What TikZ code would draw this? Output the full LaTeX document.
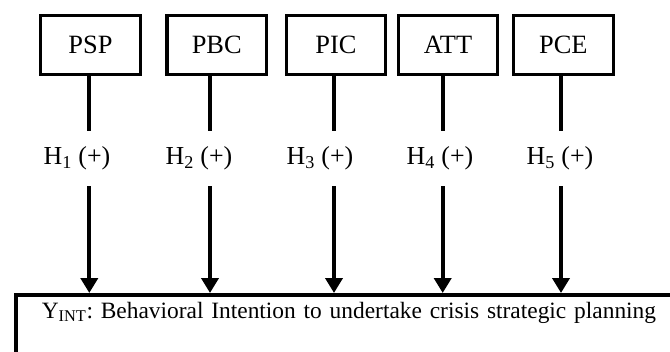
\documentclass[tikz,border=0pt]{standalone}
\usepackage{fontspec}
\setmainfont{Liberation Serif}
\usetikzlibrary{arrows.meta}
\begin{document}
\begin{tikzpicture}[x=1bp,y=1bp,
  varbox/.style={draw, line width=3.3bp, minimum width=99.5bp, minimum height=58.7bp, inner sep=0pt, font=\fontsize{26.5}{30}\selectfont},
  hyp/.style={minimum height=55bp, inner sep=0pt, font=\fontsize{26}{30}\selectfont},
  conn/.style={line width=3.8bp},
  arr/.style={conn, -{Triangle[width=17bp,length=15bp]}},
  outcome/.style={draw, line width=4bp, anchor=north west, text width=650bp, align=left, inner xsep=26bp, inner ysep=6bp, text height=17bp, text depth=60bp, font=\fontsize{23.5}{28}\selectfont\frenchspacing}]
\clip (0,0) rectangle (670,351);
% top boxes
\node[varbox] (psp) at (90.5,306) {PSP};
\node[varbox] (pbc) at (216.7,306) {PBC};
\node[varbox] (pic) at (336,306) {PIC};
\node[varbox] (att) at (448,306) {ATT};
\node[varbox] (pce) at (563.4,306) {PCE};
% hypothesis labels
\node[hyp] (h1) at (77,192.5) {H\textsubscript{1} (+)};
\node[hyp] (h2) at (199,192.5) {H\textsubscript{2} (+)};
\node[hyp] (h3) at (320,192.5) {H\textsubscript{3} (+)};
\node[hyp] (h4) at (440,192.5) {H\textsubscript{4} (+)};
\node[hyp] (h5) at (560,192.5) {H\textsubscript{5} (+)};
% outcome box
\node[outcome] (yint) at (13.8,58) {Y\textsubscript{INT}: Behavioral Intention to undertake crisis strategic planning};
% line start points
\coordinate (l1) at ([xshift=-1.2bp]psp.south);
\coordinate (l2) at ([xshift=-6.7bp]pbc.south);
\coordinate (l3) at ([xshift=-2bp]pic.south);
\coordinate (l4) at ([xshift=-5.3bp]att.south);
\coordinate (l5) at ([xshift=-2.4bp]pce.south);
% connectors
\draw[conn] (l1) -- (l1 |- h1.north);
\draw[arr] (l1 |- h1.south) -- (l1 |- yint.north);
\draw[conn] (l2) -- (l2 |- h2.north);
\draw[arr] (l2 |- h2.south) -- (l2 |- yint.north);
\draw[conn] (l3) -- (l3 |- h3.north);
\draw[arr] (l3 |- h3.south) -- (l3 |- yint.north);
\draw[conn] (l4) -- (l4 |- h4.north);
\draw[arr] (l4 |- h4.south) -- (l4 |- yint.north);
\draw[conn] (l5) -- (l5 |- h5.north);
\draw[arr] (l5 |- h5.south) -- (l5 |- yint.north);
\end{tikzpicture}
\end{document}
